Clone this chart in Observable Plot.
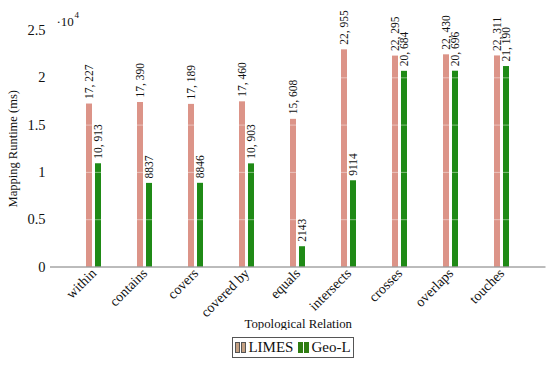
<!DOCTYPE html>
<html>
<head>
<meta charset="utf-8">
<script src="https://cdn.jsdelivr.net/npm/d3@7"></script>
<script src="https://cdn.jsdelivr.net/npm/@observablehq/plot@0.6"></script>
<style>
  html, body { margin: 0; padding: 0; background: #fff; }
  body { width: 550px; height: 366px; overflow: hidden; font-family: "Liberation Serif", "DejaVu Serif", serif; }
  #chart { position: relative; width: 550px; height: 330px; }
  #chart svg text { font-family: "Liberation Serif", "DejaVu Serif", serif; }
  #legend {
    position: absolute; left: 232px; top: 337px; height: 21px; width: 122px;
    border: 1px solid #555; box-sizing: border-box; white-space: nowrap;
    display: flex; align-items: center; justify-content: center;
    font-size: 15px; color: #111; line-height: 1;
  }
  .sw { display: inline-block; width: 3px; height: 9px; border: 1px solid #555; margin-right: 1px; }
</style>
</head>
<body>
<div id="chart"></div>
<div id="legend">
  <span class="sw" style="background:#c4a082"></span><span class="sw" style="background:#c4a082;margin-right:2px"></span><span>LIMES</span>
  <span class="sw" style="background:#2f7d12;margin-left:5px;border-color:#2f7d12"></span><span class="sw" style="background:#2f7d12;margin-right:2px;border-color:#2f7d12"></span><span>Geo-L</span>
</div>
<script>
const categories = ["within", "contains", "covers", "covered by", "equals", "intersects", "crosses", "overlaps", "touches"];
const limes = [17227, 17390, 17189, 17460, 15608, 22955, 22295, 22430, 22311];
const geol = [10913, 8837, 8846, 10903, 2143, 9114, 20684, 20696, 21190];
const yTicks = [0, 5000, 10000, 15000, 20000, 25000];
const gridTicks = [5000, 10000, 15000, 20000];

const limesData = categories.map((c, i) => ({category: c, value: limes[i]}));
const geolData = categories.map((c, i) => ({category: c, value: geol[i]}));

const fmt = v => v >= 10000 ? d3.format(",")(v).replace(",", ", ") : String(v);
const serif = "'Liberation Serif', 'DejaVu Serif', serif";

const chart = Plot.plot({
  width: 550,
  height: 330,
  marginTop: 30,
  marginBottom: 63.5,
  marginLeft: 50,
  marginRight: 4.5,
  style: {fontFamily: serif, fontSize: "13px", background: "white", color: "#111"},
  x: {domain: categories, paddingInner: 0.709, paddingOuter: 0.659},
  y: {domain: [0, 25000]},
  marks: [
    Plot.barY(limesData, {x: "category", y: "value", fill: "#dc9488", insetRight: 9}),
    Plot.barY(geolData, {x: "category", y: "value", fill: "#1f8a16", insetLeft: 9}),
    Plot.ruleY(gridTicks, {stroke: "white", strokeOpacity: 0.55, strokeWidth: 0.8}),
    Plot.ruleY([0], {stroke: "#555", strokeWidth: 0.8}),
    Plot.text(limesData, {x: "category", y: "value", text: d => fmt(d.value), rotate: -90, textAnchor: "start", dx: -4.5, dy: -5, fontSize: 11.5, fill: "#111"}),
    Plot.text(geolData, {x: "category", y: "value", text: d => fmt(d.value), rotate: -90, textAnchor: "start", dx: 4.5, dy: -5, fontSize: 11.5, fill: "#111"}),
    Plot.axisY({ticks: yTicks, tickFormat: d => d / 10000, tickSize: 0, tickPadding: 5, fontSize: 14.5,
      label: null}),
    Plot.axisY({ticks: [], label: "Mapping Runtime (ms)", labelAnchor: "center", labelOffset: 42, labelArrow: false, fontSize: 12.5}),
    Plot.axisX({tickSize: 0, tickRotate: -45, tickPadding: 4, fontSize: 14,
      label: null}),
    Plot.axisX({ticks: [], label: "Topological Relation", labelAnchor: "center", labelOffset: 61, labelArrow: false, fontSize: 12.8}),
    Plot.text(["·10"], {frameAnchor: "top-left", dx: 6, dy: -14, fontSize: 13, textAnchor: "start"}),
    Plot.text(["4"], {frameAnchor: "top-left", dx: 24, dy: -19, fontSize: 9, textAnchor: "start"})
  ]
});
document.getElementById("chart").appendChild(chart);
</script>
</body>
</html>
